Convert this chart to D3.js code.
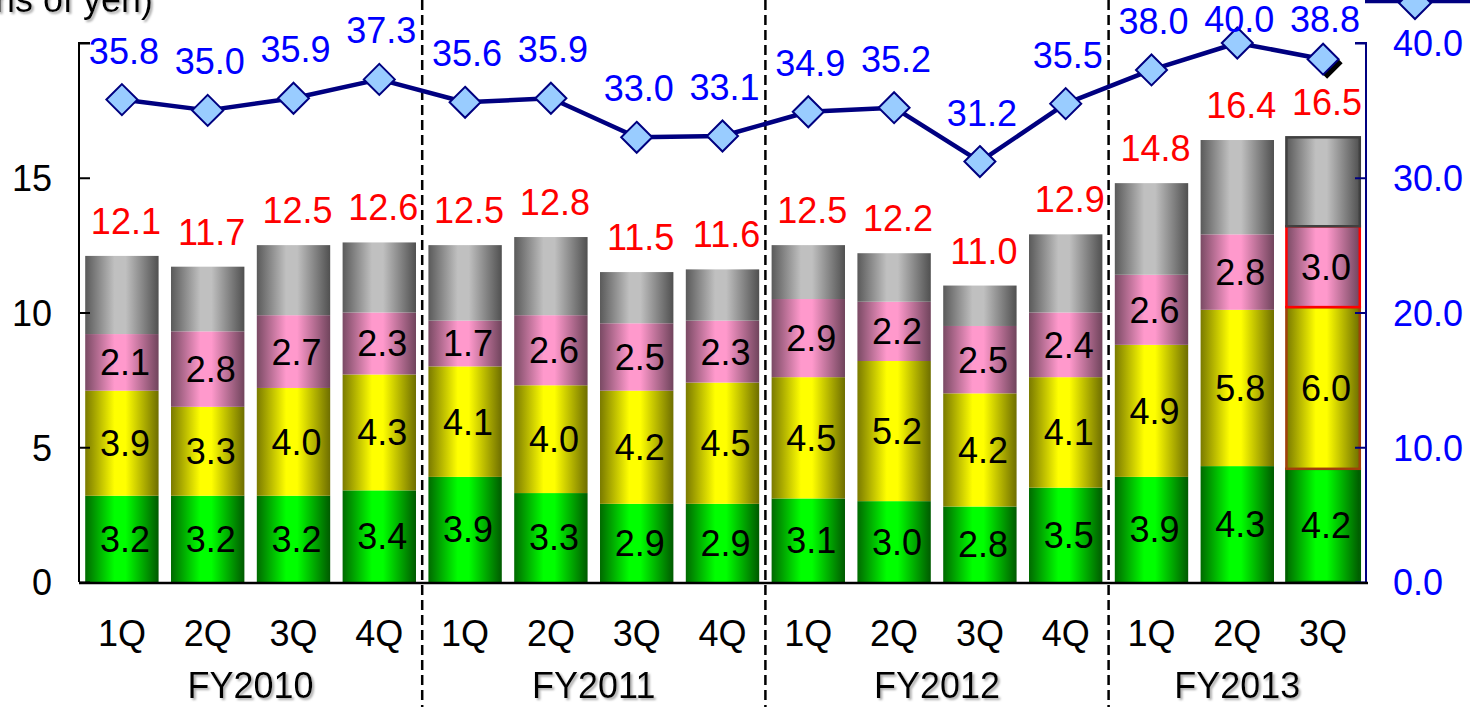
<!DOCTYPE html>
<html>
<head>
<meta charset="utf-8">
<script src="https://cdn.jsdelivr.net/npm/d3@7/dist/d3.min.js"></script>
<style>
  html, body { margin: 0; padding: 0; background: #fff; }
  svg { display: block; }
  text { font-family: "Liberation Sans", Arial, sans-serif; }
</style>
</head>
<body>
<svg id="chart" width="1470" height="707"></svg>
<script>
// Quarterly sales breakdown (billions of yen) with ratio line (right axis)
const quarters = ["1Q","2Q","3Q","4Q","1Q","2Q","3Q","4Q","1Q","2Q","3Q","4Q","1Q","2Q","3Q"];
const fiscalYears = ["FY2010","FY2011","FY2012","FY2013"];
const yearSizes = [4, 4, 4, 3];

const greenVals  = [3.2,3.2,3.2,3.4, 3.9,3.3,2.9,2.9, 3.1,3.0,2.8,3.5, 3.9,4.3,4.2];
const yellowVals = [3.9,3.3,4.0,4.3, 4.1,4.0,4.2,4.5, 4.5,5.2,4.2,4.1, 4.9,5.8,6.0];
const pinkVals   = [2.1,2.8,2.7,2.3, 1.7,2.6,2.5,2.3, 2.9,2.2,2.5,2.4, 2.6,2.8,3.0];
const grayVals   = [2.9,2.4,2.6,2.6, 2.8,2.9,1.9,1.9, 2.0,1.8,1.5,2.9, 3.4,3.5,3.3];
const totalVals  = [12.1,11.7,12.5,12.6, 12.5,12.8,11.5,11.6, 12.5,12.2,11.0,12.9, 14.8,16.4,16.5];
const ratioVals  = [35.8,35.0,35.9,37.3, 35.6,35.9,33.0,33.1, 34.9,35.2,31.2,35.5, 38.0,40.0,38.8];

const leftTicks  = [0, 5, 10, 15, 20];
const rightTicks = [0, 10, 20, 30, 40];

const W = 1470, H = 707;
const plot = { left: 79, right: 1366, top: 43, bottom: 582 };
const FONT = 36;

const svg = d3.select("#chart");
const defs = svg.append("defs");

// cylinder-like horizontal gradients for each stack segment
const segStyles = [
  { key: "green",  dark: "#006a00", light: "#00ff00", darkR: "#005a00", edge: "#006000" },
  { key: "yellow", dark: "#7a7a00", light: "#ffff00", darkR: "#6e6e00", edge: "#a0400a" },
  { key: "pink",   dark: "#7a4a64", light: "#ff99cc", darkR: "#70445c", edge: "#ff0000" },
  { key: "gray",   dark: "#5a5a5a", light: "#c0c0c0", darkR: "#505050", edge: "#404040" }
];
segStyles.forEach(s => {
  const g = defs.append("linearGradient").attr("id", "grad-" + s.key)
    .attr("x1", "0%").attr("x2", "100%").attr("y1", "0%").attr("y2", "0%");
  g.append("stop").attr("offset", "0%").attr("stop-color", s.dark);
  g.append("stop").attr("offset", "40%").attr("stop-color", s.light);
  g.append("stop").attr("offset", "55%").attr("stop-color", s.light);
  g.append("stop").attr("offset", "100%").attr("stop-color", s.darkR);
});
const shadow = defs.append("filter").attr("id", "txtShadow")
  .attr("x", "-10%").attr("y", "-10%").attr("width", "130%").attr("height", "140%");
shadow.append("feDropShadow").attr("dx", 2).attr("dy", 2).attr("stdDeviation", 1)
  .attr("flood-color", "#999").attr("flood-opacity", 0.8);

const idx = d3.range(quarters.length);
const x = d3.scaleBand().domain(idx).range([plot.left, plot.right]).paddingInner(0.145).paddingOuter(0.07);
const yL = d3.scaleLinear().domain([0, 20]).range([plot.bottom, plot.top]);
const yR = d3.scaleLinear().domain([0, 40]).range([plot.bottom, plot.top]);
const step = (plot.right - plot.left) / quarters.length;
const cx = i => plot.left + step * (i + 0.5);
const bw = x.bandwidth();

// stacked data
const rows = idx.map(i => ({ i, green: greenVals[i], yellow: yellowVals[i], pink: pinkVals[i], gray: grayVals[i] }));
const stack = d3.stack().keys(["green", "yellow", "pink", "gray"]);
const series = stack(rows);

// dashed fiscal year separators
let acc = 0;
const sepIdx = [];
yearSizes.slice(0, -1).forEach(n => { acc += n; sepIdx.push(acc); });
svg.append("g").selectAll("line").data(sepIdx).join("line")
  .attr("x1", d => plot.left + step * d).attr("x2", d => plot.left + step * d)
  .attr("y1", 0).attr("y2", H)
  .attr("stroke", "#000").attr("stroke-width", 2.5).attr("stroke-dasharray", "10,5");

// bars
const barG = svg.append("g");
series.forEach((s, si) => {
  const st = segStyles[si];
  barG.append("g").selectAll("rect").data(s).join("rect")
    .attr("x", (d, i) => cx(i) - bw / 2)
    .attr("width", bw)
    .attr("y", d => yL(d[1]))
    .attr("height", d => yL(d[0]) - yL(d[1]))
    .attr("fill", "url(#grad-" + st.key + ")")
    .attr("stroke", (d, i) => i === quarters.length - 1 ? st.edge : "none")
    .attr("stroke-width", 2.5);
});

// segment value labels (green, yellow, pink)
series.slice(0, 3).forEach(s => {
  barG.append("g").selectAll("text").data(s).join("text")
    .attr("x", (d, i) => cx(i) + 3)
    .attr("y", d => (yL(d[0]) + yL(d[1])) / 2)
    .attr("dy", "0.36em")
    .attr("text-anchor", "middle")
    .attr("font-size", FONT)
    .attr("fill", "#000")
    .text(d => d3.format(".1f")(d[1] - d[0]));
});

// total labels
svg.append("g").selectAll("text").data(totalVals).join("text")
  .attr("x", (d, i) => cx(i) + 4)
  .attr("y", d => yL(d) - 22)
  .attr("text-anchor", "middle")
  .attr("font-size", FONT)
  .attr("fill", "#ff0000")
  .text(d => d3.format(".1f")(d));

// axes
const axisL = svg.append("g").attr("transform", `translate(${plot.left},0)`)
  .call(d3.axisRight(yL).tickValues(leftTicks).tickSize(11).tickFormat(d => d === 20 ? "" : d));
axisL.select(".domain").attr("d", `M11,${plot.top}H0V${plot.bottom}`).attr("stroke", "#000").attr("stroke-width", 2);
axisL.selectAll(".tick line").attr("stroke", "#000").attr("stroke-width", 2);
axisL.selectAll(".tick text").attr("x", -27).attr("dy", "0.36em").attr("text-anchor", "end")
  .attr("font-size", FONT).attr("font-family", "Liberation Sans, Arial, sans-serif").attr("fill", "#000");

const axisR = svg.append("g").attr("transform", `translate(${plot.right},0)`)
  .call(d3.axisLeft(yR).tickValues(rightTicks).tickSize(11).tickFormat(d3.format(".1f")));
axisR.select(".domain").attr("d", `M-11,${plot.top}H0V${plot.bottom}`).attr("stroke", "#000080").attr("stroke-width", 2);
axisR.selectAll(".tick line").attr("stroke", "#000080").attr("stroke-width", 2);
axisR.selectAll(".tick text").attr("x", 27).attr("dy", "0.36em").attr("text-anchor", "start")
  .attr("font-size", FONT).attr("font-family", "Liberation Sans, Arial, sans-serif").attr("fill", "#0000ff");

// category baseline
svg.append("line").attr("x1", plot.left).attr("x2", plot.right + 2)
  .attr("y1", plot.bottom + 1).attr("y2", plot.bottom + 1)
  .attr("stroke", "#000").attr("stroke-width", 2.5);

// quarter labels
svg.append("g").selectAll("text").data(quarters).join("text")
  .attr("x", (d, i) => cx(i))
  .attr("y", 646)
  .attr("text-anchor", "middle")
  .attr("font-size", FONT)
  .attr("fill", "#000")
  .text(d => d);

// fiscal year labels
let start = 0;
const fyPos = yearSizes.map(n => { const c = (cx(start) + cx(start + n - 1)) / 2; start += n; return c; });
svg.append("g").selectAll("text").data(fiscalYears).join("text")
  .attr("x", (d, i) => fyPos[i])
  .attr("y", 698)
  .attr("text-anchor", "middle")
  .attr("font-size", FONT)
  .attr("fill", "#000")
  .attr("filter", "url(#txtShadow)")
  .text(d => d);

// axis unit title
svg.append("text").attr("x", 153).attr("y", 12).attr("text-anchor", "end")
  .attr("font-size", FONT).attr("fill", "#000").attr("filter", "url(#txtShadow)")
  .text("(Billions of yen)");

// ratio line
const diamond = r => `M0,${-r}L${r},0L0,${r}L${-r},0Z`;
const lineGen = d3.line().x((d, i) => cx(i)).y(d => yR(d));
svg.append("path").datum(ratioVals).attr("d", lineGen)
  .attr("fill", "none").attr("stroke", "#000080").attr("stroke-width", 4.5).attr("stroke-linejoin", "round");

const last = ratioVals.length - 1;
svg.append("path").attr("d", diamond(15.5))
  .attr("transform", `translate(${cx(last) + 4},${yR(ratioVals[last]) + 4})`)
  .attr("fill", "#000");

svg.append("g").selectAll("path").data(ratioVals).join("path")
  .attr("d", diamond(15.5))
  .attr("transform", (d, i) => `translate(${cx(i)},${yR(d)})`)
  .attr("fill", "#99ccff").attr("stroke", "#000080").attr("stroke-width", 2);

// ratio labels, kept inside the top of the canvas
svg.append("g").selectAll("text").data(ratioVals).join("text")
  .attr("x", (d, i) => cx(i) + 2)
  .attr("y", d => Math.max(yR(d) - 36, 32))
  .attr("text-anchor", "middle")
  .attr("font-size", FONT)
  .attr("fill", "#0000ff")
  .text(d => d3.format(".1f")(d));

// legend entry for the ratio line
const lg = svg.append("g").attr("transform", "translate(1365,1)");
lg.append("line").attr("x1", 0).attr("x2", 110).attr("y1", 0).attr("y2", 0)
  .attr("stroke", "#000080").attr("stroke-width", 4.5);
lg.append("path").attr("d", diamond(16)).attr("transform", "translate(50,2)")
  .attr("fill", "#99ccff").attr("stroke", "#000080").attr("stroke-width", 2);
</script>
</body>
</html>
